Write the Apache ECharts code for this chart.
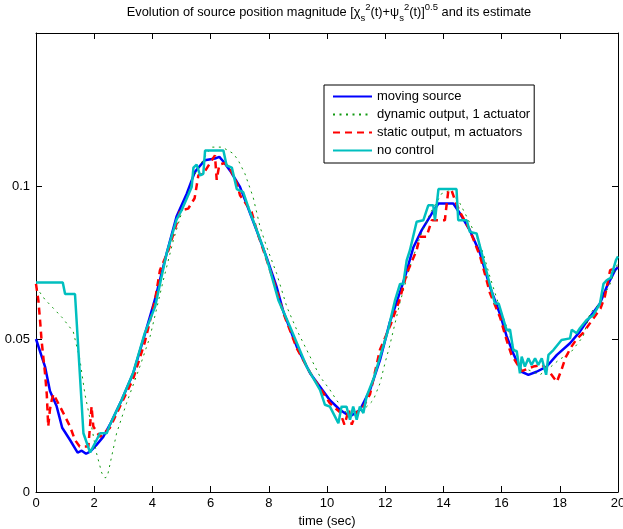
<!DOCTYPE html>
<html>
<head>
<meta charset="utf-8">
<script src="https://cdn.jsdelivr.net/npm/echarts@6/dist/echarts.min.js"></script>
<style>html,body{margin:0;padding:0;background:#fff}#c{width:623px;height:529px}</style>
</head>
<body>
<div id="c"></div>
<script>
// ---- data ----
const seriesNames = ['moving source', 'dynamic output, 1 actuator', 'static output, m actuators', 'no control'];
const xTicks = [0, 2, 4, 6, 8, 10, 12, 14, 16, 18, 20];
const yTicks = [0, 0.05, 0.1];

const blueT = [0, 0.31, 0.48, 0.71, 0.9, 1.17, 1.43, 1.57, 1.72, 1.86, 2.08, 2.31, 2.54, 2.94, 3.34, 3.74, 4.09, 4.49, 4.83, 5.18, 5.46, 5.8, 6.15, 6.3, 6.44, 6.67, 7.01, 7.24, 7.58, 7.93, 8.27, 8.5, 8.96, 9.42, 9.76, 10.1, 10.45, 10.79, 11.13, 11.48, 11.82, 12.16, 12.34, 12.68, 12.97, 13.25, 13.6, 13.83, 14.34, 14.57, 14.91, 15.26, 15.6, 15.95, 16.17, 16.4, 16.69, 16.92, 17.2, 17.55, 17.9, 18.35, 18.69, 19.04, 19.38, 19.61, 19.9, 20];
const blueV = [0.050, 0.041, 0.033, 0.028, 0.021, 0.017, 0.0129, 0.0135, 0.0125, 0.0132, 0.0154, 0.018, 0.022, 0.030, 0.0388, 0.0515, 0.063, 0.078, 0.090, 0.0975, 0.1046, 0.1084, 0.109, 0.1095, 0.108, 0.105, 0.0997, 0.094, 0.0855, 0.0765, 0.067, 0.059, 0.0475, 0.0388, 0.0344, 0.030, 0.0268, 0.0247, 0.0268, 0.0334, 0.0431, 0.0555, 0.0605, 0.0703, 0.080, 0.0855, 0.091, 0.0943, 0.0943, 0.091, 0.0855, 0.078, 0.067, 0.058, 0.051, 0.0453, 0.0393, 0.0383, 0.0393, 0.041, 0.0448, 0.0486, 0.0524, 0.0573, 0.0616, 0.067, 0.0725, 0.0735];

const greenT = [0, 0.3, 0.6, 0.9, 1.28, 1.51, 1.68, 1.91, 2.08, 2.26, 2.37, 2.45, 2.6, 2.77, 3.11, 3.57, 3.92, 4.37, 4.72, 5.06, 5.41, 5.87, 6.04, 6.4, 6.78, 6.95, 7.18, 7.46, 7.7, 7.93, 8.27, 8.62, 8.96, 9.42, 9.76, 10.1, 10.33, 10.67, 10.9, 11.25, 11.59, 11.82, 11.99, 12.16, 12.51, 12.85, 13.2, 13.54, 13.94, 14.23, 14.57, 14.8, 15.14, 15.37, 15.6, 15.89, 16.17, 16.5, 16.9, 17.32, 17.7, 18.0, 18.35, 18.8, 19.04, 19.4, 19.73, 20];
const greenV = [0.067, 0.063, 0.060, 0.057, 0.0524, 0.0432, 0.032, 0.0214, 0.0127, 0.0062, 0.0046, 0.005, 0.0116, 0.0192, 0.029, 0.041, 0.0508, 0.069, 0.0823, 0.093, 0.103, 0.1106, 0.1127, 0.1127, 0.1106, 0.1084, 0.104, 0.0964, 0.0866, 0.080, 0.0714, 0.0605, 0.053, 0.0442, 0.0377, 0.0334, 0.030, 0.0258, 0.0247, 0.0268, 0.030, 0.0355, 0.042, 0.048, 0.062, 0.0736, 0.0834, 0.091, 0.0975, 0.0986, 0.0943, 0.090, 0.0834, 0.078, 0.0703, 0.0616, 0.054, 0.045, 0.040, 0.0383, 0.041, 0.0434, 0.0453, 0.0508, 0.0584, 0.062, 0.068, 0.075];

const redT = [0, 0.08, 0.14, 0.19, 0.31, 0.37, 0.42, 0.48, 0.54, 0.6, 0.82, 0.94, 1.17, 1.34, 1.5, 1.8, 1.91, 1.97, 2.2, 2.54, 2.94, 3.34, 3.74, 4.09, 4.26, 4.55, 4.83, 4.95, 5.23, 5.45, 5.58, 5.75, 5.95, 6.15, 6.18, 6.21, 6.3, 6.5, 6.7, 6.9, 7.01, 7.41, 7.6, 7.93, 8.27, 8.5, 8.96, 9.42, 9.76, 10.1, 10.45, 10.6, 10.75, 10.85, 11.0, 11.2, 11.48, 11.82, 12.2, 12.5, 12.74, 13.08, 13.19, 13.42, 13.6, 14.05, 14.1, 14.17, 14.28, 14.45, 14.6, 14.91, 15.26, 15.49, 15.6, 15.95, 16.17, 16.34, 16.69, 17.09, 17.4, 17.66, 17.9, 18.06, 18.2, 18.4, 18.58, 18.8, 19.1, 19.4, 19.55, 19.73, 20];
const redV = [0.068, 0.0627, 0.056, 0.0497, 0.0388, 0.032, 0.0214, 0.027, 0.030, 0.032, 0.028, 0.0258, 0.0214, 0.017, 0.0149, 0.0149, 0.028, 0.0214, 0.018, 0.021, 0.029, 0.037, 0.049, 0.0627, 0.0725, 0.079, 0.0877, 0.092, 0.0926, 0.096, 0.1035, 0.104, 0.107, 0.110, 0.1095, 0.102, 0.107, 0.1075, 0.105, 0.101, 0.097, 0.0915, 0.085, 0.0758, 0.066, 0.0585, 0.047, 0.039, 0.034, 0.029, 0.026, 0.022, 0.027, 0.022, 0.026, 0.027, 0.032, 0.0465, 0.055, 0.063, 0.0714, 0.079, 0.0834, 0.0834, 0.0888, 0.0888, 0.093, 0.0986, 0.0986, 0.094, 0.091, 0.0855, 0.077, 0.069, 0.065, 0.057, 0.0497, 0.0448, 0.0395, 0.041, 0.0415, 0.039, 0.036, 0.040, 0.044, 0.0475, 0.050, 0.052, 0.056, 0.060, 0.064, 0.0725, 0.0735];

const cyanT = [0, 0.92, 1.0, 1.34, 1.63, 1.86, 2.2, 2.43, 2.54, 2.94, 3.34, 3.74, 4.09, 4.49, 4.83, 5.0, 5.18, 5.35, 5.41, 5.52, 5.64, 5.75, 5.81, 6.44, 6.55, 6.73, 6.9, 7.12, 7.35, 7.46, 7.8, 8.0, 8.33, 8.73, 9.3, 9.76, 9.93, 10.1, 10.39, 10.5, 10.67, 10.79, 10.9, 11.02, 11.13, 11.25, 11.36, 11.6, 11.82, 12.1, 12.34, 12.51, 12.62, 12.74, 12.85, 13.08, 13.31, 13.48, 13.65, 13.71, 13.83, 14.45, 14.51, 14.8, 14.91, 15.14, 15.4, 15.77, 15.9, 16.17, 16.29, 16.4, 16.52, 16.63, 16.69, 16.8, 16.92, 17.03, 17.15, 17.26, 17.38, 17.53, 17.61, 17.78, 18.06, 18.35, 18.41, 18.58, 18.69, 18.92, 19.15, 19.38, 19.5, 19.61, 19.75, 19.93, 20];
const cyanV = [0.0685, 0.0685, 0.0647, 0.0647, 0.0192, 0.0129, 0.0192, 0.0192, 0.022, 0.030, 0.039, 0.052, 0.0605, 0.078, 0.089, 0.092, 0.0959, 0.0997, 0.106, 0.107, 0.1035, 0.104, 0.1116, 0.1116, 0.1067, 0.106, 0.099, 0.098, 0.0915, 0.0888, 0.080, 0.074, 0.0627, 0.054, 0.041, 0.0334, 0.0285, 0.0279, 0.0225, 0.0279, 0.0279, 0.0236, 0.0279, 0.0236, 0.0279, 0.0258, 0.0312, 0.037, 0.044, 0.053, 0.0627, 0.068, 0.068, 0.0758, 0.079, 0.0883, 0.0888, 0.0937, 0.0937, 0.0888, 0.099, 0.099, 0.0888, 0.0888, 0.085, 0.0845, 0.075, 0.0616, 0.0616, 0.053, 0.053, 0.0464, 0.046, 0.0388, 0.0442, 0.041, 0.0437, 0.0415, 0.0437, 0.0415, 0.0437, 0.0383, 0.0448, 0.0464, 0.0497, 0.0502, 0.053, 0.0519, 0.0535, 0.0562, 0.0578, 0.0616, 0.068, 0.0692, 0.070, 0.0758, 0.077];

// ---- build ----
const zip = (t, v) => t.map((x, i) => [x, v[i]]);
const FONT = '"Liberation Sans", Arial, Helvetica, sans-serif';
const chart = echarts.init(document.getElementById('c'), null, {renderer: 'canvas'});

const baseAxisLine = {show: true, onZero: false, lineStyle: {color: '#000', width: 1}};
const tickStyle = {show: true, inside: true, length: 6, lineStyle: {color: '#000', width: 1}};

chart.setOption({
  animation: false,
  backgroundColor: '#fff',
  title: {
    text: 'Evolution of source position magnitude [χ{sub|s}{sup|2}(t)+ψ{sub|s}{sup|2}(t)]{sup|0.5} and its estimate',
    left: 329, top: 2, padding: 0, textAlign: 'center',
    textStyle: {
      fontFamily: FONT, fontSize: 12.8, fontWeight: 'normal', color: '#000', lineHeight: 21,
      rich: {
        sup: {fontFamily: FONT, fontSize: 9.5, color: '#000', verticalAlign: 'top'},
        sub: {fontFamily: FONT, fontSize: 9.5, color: '#000', verticalAlign: 'bottom'}
      }
    }
  },
  legend: {
    orient: 'vertical', left: 324, top: 85,
    padding: [5, 4, 6, 8], itemGap: 5, itemWidth: 39, itemHeight: 14,
    borderColor: '#000', borderWidth: 1, borderRadius: 0, backgroundColor: '#fff',
    itemStyle: {opacity: 0},
    textStyle: {fontFamily: FONT, fontSize: 13, color: '#000'},
    data: seriesNames
  },
  grid: {left: 36, right: 5, top: 33, bottom: 37, containLabel: false, outerBoundsMode: 'none'},
  xAxis: [{
    type: 'value', min: 0, max: 20, interval: 2, position: 'bottom',
    name: 'time (sec)', nameLocation: 'middle', nameGap: 22,
    nameTextStyle: {fontFamily: FONT, fontSize: 13, color: '#000'},
    axisLine: baseAxisLine, axisTick: tickStyle,
    axisLabel: {fontFamily: FONT, fontSize: 13, color: '#000', margin: 5},
    splitLine: {show: false}
  }, {
    type: 'value', min: 0, max: 20, interval: 2, position: 'top',
    axisLine: baseAxisLine, axisTick: tickStyle, axisLabel: {show: false}, splitLine: {show: false}
  }],
  yAxis: [{
    type: 'value', min: 0, max: 0.15, position: 'left',
    axisLine: baseAxisLine,
    axisTick: Object.assign({}, tickStyle, {customValues: yTicks}),
    axisLabel: {fontFamily: FONT, fontSize: 13, color: '#000', margin: 6, customValues: yTicks,
      formatter: v => String(+v.toFixed(3))},
    splitLine: {show: false}
  }, {
    type: 'value', min: 0, max: 0.15, position: 'right',
    axisLine: baseAxisLine,
    axisTick: Object.assign({}, tickStyle, {customValues: yTicks}),
    axisLabel: {show: false}, splitLine: {show: false}
  }],
  series: [
    {name: seriesNames[0], type: 'line', data: zip(blueT, blueV), symbol: 'none', showSymbol: false,
      lineStyle: {color: '#0000ff', width: 2.5}, itemStyle: {color: '#0000ff'}},
    {name: seriesNames[1], type: 'line', data: zip(greenT, greenV), symbol: 'none', showSymbol: false,
      lineStyle: {color: '#119911', width: 1, type: [2, 4.5]}, itemStyle: {color: '#119911'}},
    {name: seriesNames[2], type: 'line', data: zip(redT, redV), symbol: 'none', showSymbol: false,
      lineStyle: {color: '#ff0000', width: 2.5, type: [7, 5]}, itemStyle: {color: '#ff0000'}},
    {name: seriesNames[3], type: 'line', data: zip(cyanT, cyanV), symbol: 'none', showSymbol: false,
      lineStyle: {color: '#00bfbf', width: 2.5}, itemStyle: {color: '#00bfbf'}}
  ]
});
</script>
</body>
</html>
